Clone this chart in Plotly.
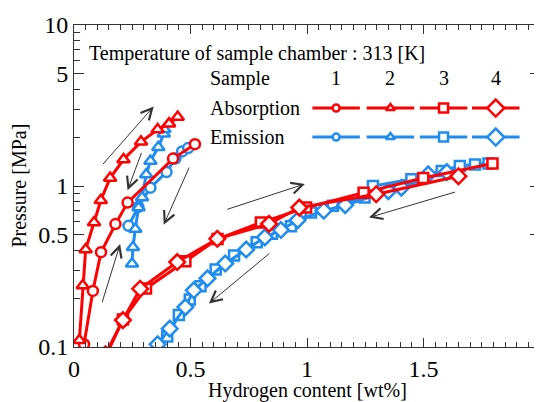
import numpy as np
import plotly.graph_objects as go

# ---- data ----
abs1_x = [0.043, 0.081, 0.116, 0.178, 0.230, 0.425, 0.519]
abs1_p = [0.104, 0.223, 0.388, 0.580, 0.789, 1.48, 1.82]

abs2_x = [0.023, 0.0375, 0.050, 0.086, 0.115, 0.155, 0.2125, 0.2875, 0.359, 0.408, 0.445]
abs2_p = [0.110, 0.241, 0.403, 0.593, 0.816, 1.12, 1.46, 1.88, 2.24, 2.44, 2.68]

abs3_x = [0.140, 0.210, 0.309, 0.478, 0.616, 0.802, 0.996, 1.243, 1.499, 1.796]
abs3_p = [0.090, 0.148, 0.231, 0.341, 0.468, 0.593, 0.734, 0.909, 1.12, 1.38]

abs4_x = [0.135, 0.210, 0.284, 0.443, 0.615, 0.837, 0.967, 1.297, 1.650]
abs4_p = [0.090, 0.147, 0.230, 0.337, 0.470, 0.582, 0.734, 0.889, 1.15]

em1_x = [0.234, 0.276, 0.328, 0.397, 0.435, 0.464, 0.490]
em1_p = [0.566, 0.741, 0.976, 1.22, 1.48, 1.64, 1.72]

em2_x = [0.249, 0.253, 0.263, 0.277, 0.292, 0.310, 0.328, 0.362, 0.385, 0.388]
em2_p = [0.329, 0.416, 0.541, 0.734, 0.847, 1.18, 1.43, 1.74, 2.11, 2.25]

em3_x = [0.400, 0.450, 0.497, 0.543, 0.608, 0.687, 0.784, 0.849, 0.931, 1.017, 1.111,
         1.247, 1.283, 1.448, 1.578, 1.656, 1.721, 1.779]
em3_p = [0.116, 0.158, 0.197, 0.238, 0.303, 0.370, 0.448, 0.506, 0.562, 0.684, 0.754,
         0.848, 1.00, 1.10, 1.24, 1.33, 1.36, 1.38]

em4_x = [0.359, 0.411, 0.478, 0.514, 0.573, 0.649, 0.739, 0.819, 0.888, 0.960, 1.072,
         1.164, 1.349, 1.405, 1.520, 1.600]
em4_p = [0.104, 0.130, 0.177, 0.225, 0.267, 0.330, 0.403, 0.480, 0.533, 0.614, 0.702,
         0.760, 0.930, 0.976, 1.18, 1.22]

# arrows: (tail x, tail p, head x, head p)
arrows = [
    (0.119, 1.34, 0.342, 3.12),
    (0.292, 1.64, 0.230, 0.94),
    (0.119, 0.186, 0.198, 0.436),
    (0.497, 1.33, 0.385, 0.574),
    (0.651, 0.711, 0.991, 1.03),
    (1.642, 0.923, 1.266, 0.637),
    (0.845, 0.388, 0.579, 0.186),
]

y_tickvals = [0.1, 0.5, 1, 5, 10]
y_ticktext = ["0.1", "0.5", "1", "5", "10"]
y_minor = [0.2, 0.3, 0.4, 0.6, 0.7, 0.8, 0.9, 2, 3, 4, 6, 7, 8, 9]

samples = ["1", "2", "3", "4"]
RED = "#ff0000"
BLUE = "#1e8cf0"
FONT = "Liberation Serif, DejaVu Serif, serif"

symbols = ["circle", "triangle-up", "square", "diamond"]
sizes = [10, 11, 10, 12]

fig = go.Figure()

em = [(em1_x, em1_p), (em2_x, em2_p), (em3_x, em3_p), (em4_x, em4_p)]
ab = [(abs1_x, abs1_p), (abs2_x, abs2_p), (abs3_x, abs3_p), (abs4_x, abs4_p)]

for color, series in [(BLUE, em), (RED, ab)]:
    for (xs, ps), sym, sz in zip(series, symbols, sizes):
        fig.add_trace(go.Scatter(
            x=xs, y=ps, mode="lines+markers",
            line=dict(color=color, width=3),
            marker=dict(symbol=sym, size=sz, color="white",
                        line=dict(color=color, width=2.5)),
            showlegend=False, cliponaxis=True))

# ---- custom legend key (overlay axes spanning the plot area) ----
leg_cx = [0.5625, 0.679, 0.793, 0.905]
leg_half = 0.051
leg_rows = [(RED, 0.742), (BLUE, 0.652)]
leg_sizes = [7, 8, 9, 13]
for color, ry in leg_rows:
    for cx, sym, sz in zip(leg_cx, symbols, leg_sizes):
        fig.add_trace(go.Scatter(
            x=[cx - leg_half, cx + leg_half], y=[ry, ry], mode="lines",
            line=dict(color=color, width=3), xaxis="x2", yaxis="y2",
            showlegend=False, hoverinfo="skip"))
        fig.add_trace(go.Scatter(
            x=[cx], y=[ry], mode="markers", xaxis="x2", yaxis="y2",
            marker=dict(symbol=sym, size=sz, color="white",
                        line=dict(color=color, width=2.5)),
            showlegend=False, hoverinfo="skip"))

annotations = []
for tx, tp, hx, hp in arrows:
    annotations.append(dict(
        x=hx, y=np.log10(hp), ax=tx, ay=np.log10(tp),
        xref="x", yref="y", axref="x", ayref="y",
        showarrow=True, arrowhead=5, arrowsize=2.2, arrowwidth=1,
        arrowcolor="#333333", text=""))

txt = dict(font=dict(family=FONT, size=20, color="black"), showarrow=False,
           xref="paper", yref="paper")
annotations.append(dict(text="Temperature of sample chamber : 313 [K]",
                        x=0.028, y=0.911, xanchor="left", yanchor="middle", **txt))
annotations.append(dict(text="Sample", x=0.2866, y=0.834, xanchor="left", yanchor="middle", **txt))
annotations.append(dict(text="Absorption", x=0.2866, y=0.742, xanchor="left", yanchor="middle", **txt))
annotations.append(dict(text="Emission", x=0.2866, y=0.652, xanchor="left", yanchor="middle", **txt))
for cx, s in zip(leg_cx, samples):
    annotations.append(dict(text=s, x=cx, y=0.834, xanchor="center", yanchor="middle", **txt))

annotations.append(dict(text="Hydrogen content [wt%]", x=0.5, y=-0.134,
                        xanchor="center", yanchor="middle", **txt))
annotations.append(dict(text="Pressure [MPa]", x=-0.119, y=0.5, textangle=-90,
                        xanchor="center", yanchor="middle", **txt))

axis_common = dict(showline=True, linecolor="#333333", linewidth=1, mirror="allticks",
                   ticks="inside", tickcolor="#333333", showgrid=False, zeroline=False,
                   ticklabeloverflow="allow",
                   tickfont=dict(family=FONT, size=24, color="black"))

fig.update_layout(
    width=542, height=402,
    margin=dict(l=66, r=4, t=15, b=63),
    plot_bgcolor="white", paper_bgcolor="white",
    xaxis=dict(range=[0, 2], tickvals=[0, 0.5, 1, 1.5, 2],
               ticktext=["0", "0.5", "1", "1.5", "2"], ticklen=9,
               minor=dict(dtick=0.05, ticks="inside", ticklen=5, tickcolor="#333333"),
               **axis_common),
    yaxis=dict(type="log", range=[-1, 1], tickvals=y_tickvals, ticktext=y_ticktext,
               ticklen=10,
               minor=dict(tickvals=y_minor, ticks="inside", ticklen=6, tickcolor="#333333"),
               **axis_common),
    xaxis2=dict(overlaying="x", range=[0, 1], visible=False, fixedrange=True),
    yaxis2=dict(overlaying="y", range=[0, 1], visible=False, fixedrange=True),
    annotations=annotations,
    showlegend=False,
)

fig.write_html("out.html")
